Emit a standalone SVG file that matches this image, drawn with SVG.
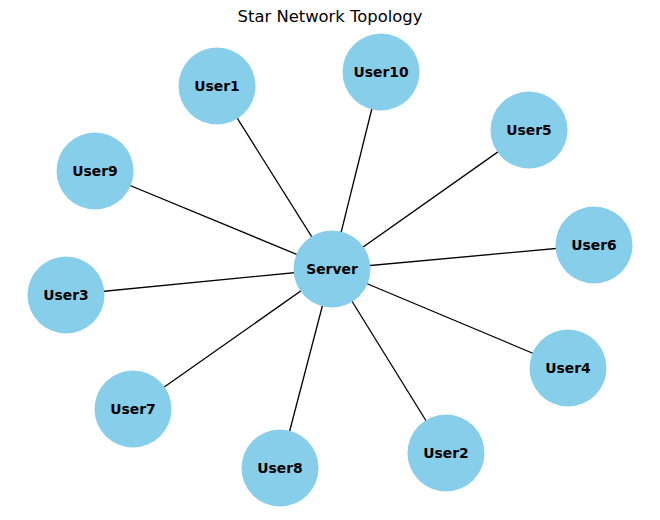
<svg xmlns="http://www.w3.org/2000/svg" width="660" height="520" viewBox="0 0 660 520">
<style>
.n circle{fill:#87CEEB}
.n text{font-family:"DejaVu Sans",sans-serif;font-weight:bold;font-size:13.9px;fill:#000;text-anchor:middle;dominant-baseline:central}
#edges line{stroke:#000;stroke-width:1.3}
.title{font-family:"DejaVu Sans",sans-serif;font-size:16.4px;text-anchor:middle;fill:#000}
</style>
<rect width="660" height="520" fill="#fff"/>
<text class="title" x="330" y="22">Star Network Topology</text>
<g id="edges">
<line x1="332" y1="269" x2="217" y2="86"/>
<line x1="332" y1="269" x2="381" y2="72"/>
<line x1="332" y1="269" x2="529" y2="130"/>
<line x1="332" y1="269" x2="95" y2="171"/>
<line x1="332" y1="269" x2="594" y2="245"/>
<line x1="332" y1="269" x2="66" y2="295"/>
<line x1="332" y1="269" x2="568" y2="368"/>
<line x1="332" y1="269" x2="133" y2="409"/>
<line x1="332" y1="269" x2="280" y2="468"/>
<line x1="332" y1="269" x2="446" y2="453"/>
</g>
<g id="Server" class="n"><circle cx="332" cy="269" r="38.5"/><text x="332" y="269">Server</text></g>
<g id="User1" class="n"><circle cx="217" cy="86" r="38.5"/><text x="217" y="86">User1</text></g>
<g id="User10" class="n"><circle cx="381" cy="72" r="38.5"/><text x="381" y="72">User10</text></g>
<g id="User5" class="n"><circle cx="529" cy="130" r="38.5"/><text x="529" y="130">User5</text></g>
<g id="User9" class="n"><circle cx="95" cy="171" r="38.5"/><text x="95" y="171">User9</text></g>
<g id="User6" class="n"><circle cx="594" cy="245" r="38.5"/><text x="594" y="245">User6</text></g>
<g id="User3" class="n"><circle cx="66" cy="295" r="38.5"/><text x="66" y="295">User3</text></g>
<g id="User4" class="n"><circle cx="568" cy="368" r="38.5"/><text x="568" y="368">User4</text></g>
<g id="User7" class="n"><circle cx="133" cy="409" r="38.5"/><text x="133" y="409">User7</text></g>
<g id="User8" class="n"><circle cx="280" cy="468" r="38.5"/><text x="280" y="468">User8</text></g>
<g id="User2" class="n"><circle cx="446" cy="453" r="38.5"/><text x="446" y="453">User2</text></g>
</svg>
